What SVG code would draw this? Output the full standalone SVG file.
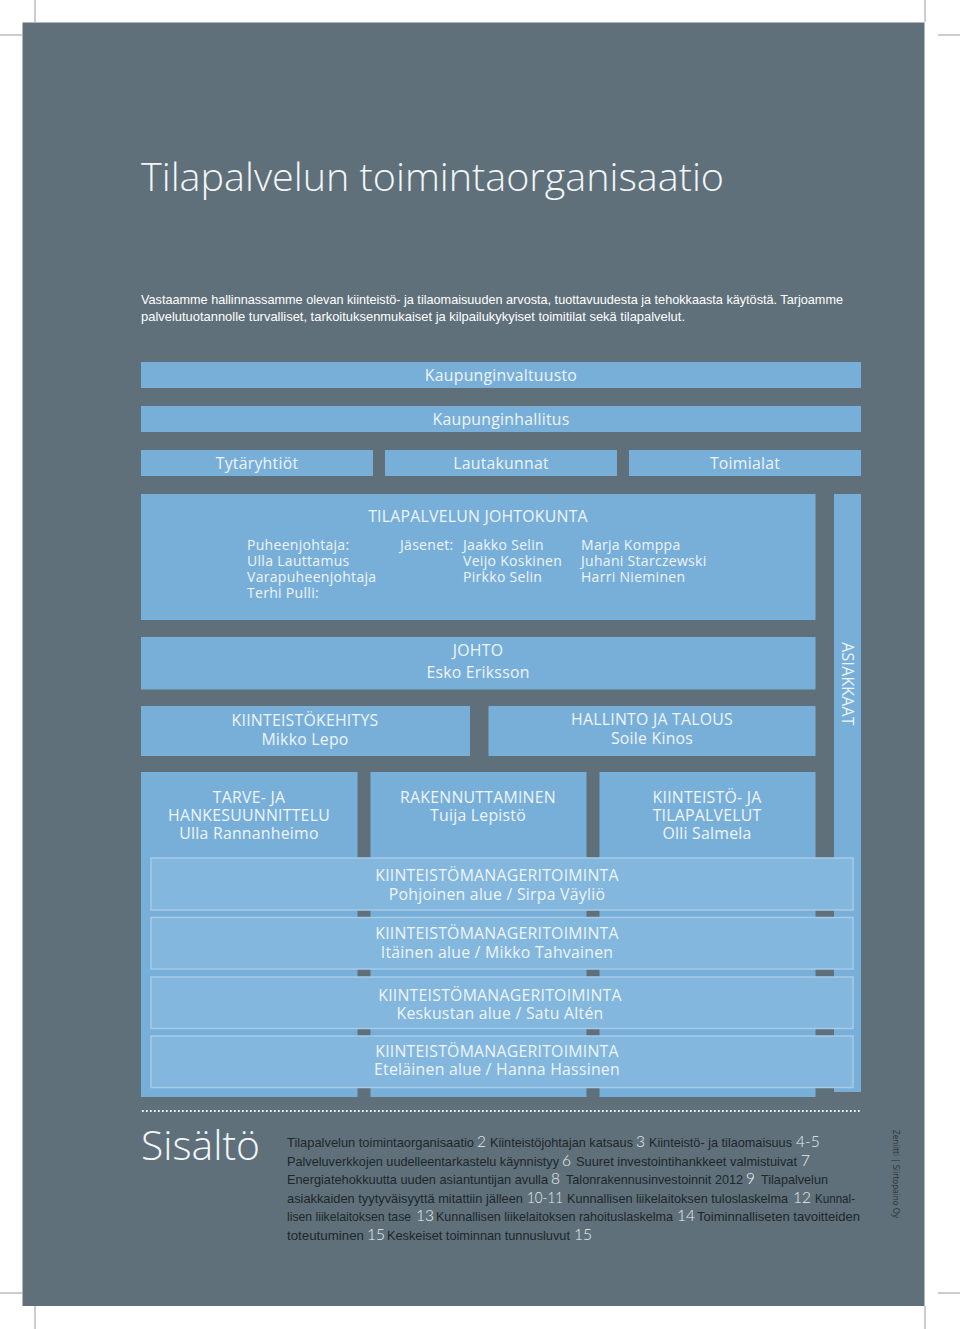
<svg xmlns="http://www.w3.org/2000/svg" width="960" height="1329" viewBox="0 0 960 1329">
<style>
.box{fill:#78afd9}
.km{fill:#83b7de;stroke:#a6cbe8;stroke-width:1.5}
.bt{font-family:"Open Sans","Liberation Sans",sans-serif;font-size:15.8px;letter-spacing:0.25px;fill:#eef5fb;text-anchor:middle}
.bl{font-family:"Open Sans","Liberation Sans",sans-serif;font-size:14px;letter-spacing:0.3px;fill:#eef5fb}
.crop{stroke:#9a9a9a;stroke-width:1;fill:none}
.para{font-family:"Liberation Sans Narrow","Liberation Sans",sans-serif;font-size:13px;fill:#ffffff}
.toc{font-family:"Liberation Sans Narrow","Liberation Sans",sans-serif;font-size:13px;fill:#1e262b}
.num{font-family:Lato,"Liberation Sans",sans-serif;font-size:15.5px;font-weight:300;fill:#e8eef2}
</style>
<rect width="960" height="1329" fill="#ffffff"/>
<g id="cropmarks">
<line class="crop" x1="35" y1="0" x2="35" y2="22"/>
<line class="crop" x1="925" y1="0" x2="925" y2="22"/>
<line class="crop" x1="0" y1="35" x2="22" y2="35"/>
<line class="crop" x1="938" y1="35" x2="960" y2="35"/>
<line class="crop" x1="35" y1="1306" x2="35" y2="1329"/>
<line class="crop" x1="925" y1="1306" x2="925" y2="1329"/>
<line class="crop" x1="0" y1="1293" x2="22" y2="1293"/>
<line class="crop" x1="938" y1="1293" x2="960" y2="1293"/>
</g>
<rect id="panel" x="22.5" y="22.5" width="902" height="1283.5" fill="#5f707a"/>
<text x="141" y="191" font-family="'Open Sans','Liberation Sans',sans-serif" font-size="38" font-weight="300" fill="#f2f6f8" textLength="583" lengthAdjust="spacingAndGlyphs">Tilapalvelun toimintaorganisaatio</text>
<text class="para" x="141" y="304" textLength="702" lengthAdjust="spacingAndGlyphs">Vastaamme hallinnassamme olevan kiinteistö- ja tilaomaisuuden arvosta, tuottavuudesta ja tehokkaasta käytöstä. Tarjoamme</text>
<text class="para" x="141" y="321" textLength="544" lengthAdjust="spacingAndGlyphs">palvelutuotannolle turvalliset, tarkoituksenmukaiset ja kilpailukykyiset toimitilat sekä tilapalvelut.</text>

<g id="connectors"></g>

<g id="valtuusto"><rect class="box" x="141" y="362" width="720" height="26"/><text class="bt" x="501" y="380.5">Kaupunginvaltuusto</text></g>
<g id="hallitus"><rect class="box" x="141" y="406" width="720" height="26"/><text class="bt" x="501" y="424.5">Kaupunginhallitus</text></g>
<g id="tytaryhtiot"><rect class="box" x="141" y="450" width="232" height="26"/><text class="bt" x="257" y="469">Tytäryhtiöt</text></g>
<g id="lautakunnat"><rect class="box" x="385" y="450" width="232" height="26"/><text class="bt" x="501" y="469">Lautakunnat</text></g>
<g id="toimialat"><rect class="box" x="629" y="450" width="232" height="26"/><text class="bt" x="745" y="469">Toimialat</text></g>

<g id="johtokunta"><rect class="box" x="141" y="494" width="674.5" height="126"/>
<text class="bt" x="478" y="522">TILAPALVELUN JOHTOKUNTA</text>
<text class="bl" x="247" y="550">Puheenjohtaja:<tspan x="247" dy="16">Ulla Lauttamus</tspan><tspan x="247" dy="16">Varapuheenjohtaja</tspan><tspan x="247" dy="16">Terhi Pulli:</tspan></text>
<text class="bl" x="400" y="550">Jäsenet:</text>
<text class="bl" x="463" y="550">Jaakko Selin<tspan x="463" dy="16">Veijo Koskinen</tspan><tspan x="463" dy="16">Pirkko Selin</tspan></text>
<text class="bl" x="581" y="550">Marja Komppa<tspan x="581" dy="16">Juhani Starczewski</tspan><tspan x="581" dy="16">Harri Nieminen</tspan></text>
</g>

<g id="asiakkaat"><rect class="box" x="834" y="494" width="27" height="598"/>
<text class="bt" transform="translate(842,684) rotate(90)" x="0" y="0">ASIAKKAAT</text></g>

<g id="johto"><rect class="box" x="141" y="637" width="674.5" height="52.5"/>
<text class="bt" x="478" y="656">JOHTO<tspan x="478" dy="22">Esko Eriksson</tspan></text></g>
<g id="kehitys"><rect class="box" x="141" y="706" width="329" height="50"/>
<text class="bt" x="305" y="726">KIINTEISTÖKEHITYS<tspan x="305" dy="19">Mikko Lepo</tspan></text></g>
<g id="hallinto"><rect class="box" x="488.5" y="706" width="327" height="50"/>
<text class="bt" x="652" y="725">HALLINTO JA TALOUS<tspan x="652" dy="19">Soile Kinos</tspan></text></g>

<g id="tarve"><rect class="box" x="141" y="772" width="216.5" height="325"/>
<text class="bt" x="249" y="803">TARVE- JA<tspan x="249" dy="18">HANKESUUNNITTELU</tspan><tspan x="249" dy="18">Ulla Rannanheimo</tspan></text></g>
<g id="rakennuttaminen"><rect class="box" x="370.5" y="772" width="216" height="325"/>
<text class="bt" x="478" y="803">RAKENNUTTAMINEN<tspan x="478" dy="18">Tuija Lepistö</tspan></text></g>
<g id="tilapalvelut"><rect class="box" x="599.5" y="772" width="216" height="325"/>
<text class="bt" x="707" y="803">KIINTEISTÖ- JA<tspan x="707" dy="18">TILAPALVELUT</tspan><tspan x="707" dy="18">Olli Salmela</tspan></text></g>

<g id="km-pohjoinen"><rect class="km" x="151" y="858" width="702" height="52"/>
<text class="bt" x="497" y="881">KIINTEISTÖMANAGERITOIMINTA<tspan x="497" dy="19">Pohjoinen alue / Sirpa Väyliö</tspan></text></g>
<g id="km-itainen"><rect class="km" x="151" y="917.5" width="702" height="51.5"/>
<text class="bt" x="497" y="939">KIINTEISTÖMANAGERITOIMINTA<tspan x="497" dy="19">Itäinen alue / Mikko Tahvainen</tspan></text></g>
<g id="km-keskusta"><rect class="km" x="151" y="977" width="702" height="51.5"/>
<text class="bt" x="500" y="1001">KIINTEISTÖMANAGERITOIMINTA<tspan x="500" dy="18">Keskustan alue / Satu Altén</tspan></text></g>
<g id="km-etelainen"><rect class="km" x="151" y="1036" width="702" height="51.5"/>
<text class="bt" x="497" y="1057">KIINTEISTÖMANAGERITOIMINTA<tspan x="497" dy="18">Eteläinen alue / Hanna Hassinen</tspan></text></g>

<line x1="142" y1="1111" x2="862" y2="1111" stroke="#ffffff" stroke-width="2.2" stroke-dasharray="1.6 2.4" stroke-linecap="butt"/>
<text x="141" y="1160" font-family="'Open Sans','Liberation Sans',sans-serif" font-size="40" font-weight="300" fill="#f2f6f8" textLength="119" lengthAdjust="spacingAndGlyphs">Sisältö</text>

<g id="toc">
<text class="toc" x="287" y="1147" textLength="187" lengthAdjust="spacingAndGlyphs">Tilapalvelun toimintaorganisaatio</text>
<text class="num" x="477" y="1147">2</text>
<text class="toc" x="490" y="1147" textLength="143" lengthAdjust="spacingAndGlyphs">Kiinteistöjohtajan katsaus</text>
<text class="num" x="636" y="1147">3</text>
<text class="toc" x="649" y="1147" textLength="143" lengthAdjust="spacingAndGlyphs">Kiinteistö- ja tilaomaisuus</text>
<text class="num" x="796" y="1147">4-5</text>

<text class="toc" x="287" y="1165.5" textLength="272" lengthAdjust="spacingAndGlyphs">Palveluverkkojen uudelleentarkastelu käynnistyy</text>
<text class="num" x="562" y="1165.5">6</text>
<text class="toc" x="576" y="1165.5" textLength="221" lengthAdjust="spacingAndGlyphs">Suuret investointihankkeet valmistuivat</text>
<text class="num" x="801" y="1165.5">7</text>

<text class="toc" x="287" y="1184" textLength="261" lengthAdjust="spacingAndGlyphs">Energiatehokkuutta uuden asiantuntijan avulla</text>
<text class="num" x="551" y="1184">8</text>
<text class="toc" x="566" y="1184" textLength="177" lengthAdjust="spacingAndGlyphs">Talonrakennusinvestoinnit 2012</text>
<text class="num" x="746" y="1184">9</text>
<text class="toc" x="761" y="1184" textLength="67" lengthAdjust="spacingAndGlyphs">Tilapalvelun</text>

<text class="toc" x="287" y="1202.5" textLength="236" lengthAdjust="spacingAndGlyphs">asiakkaiden tyytyväisyyttä mitattiin jälleen</text>
<text class="num" x="527" y="1202.5" textLength="36" lengthAdjust="spacingAndGlyphs">10-11</text>
<text class="toc" x="567" y="1202.5" textLength="221" lengthAdjust="spacingAndGlyphs">Kunnallisen liikelaitoksen tuloslaskelma</text>
<text class="num" x="793" y="1202.5">12</text>
<text class="toc" x="815" y="1202.5" textLength="40" lengthAdjust="spacingAndGlyphs">Kunnal-</text>

<text class="toc" x="287" y="1221" textLength="124" lengthAdjust="spacingAndGlyphs">lisen liikelaitoksen tase</text>
<text class="num" x="416" y="1221">13</text>
<text class="toc" x="436" y="1221" textLength="237" lengthAdjust="spacingAndGlyphs">Kunnallisen liikelaitoksen rahoituslaskelma</text>
<text class="num" x="677" y="1221">14</text>
<text class="toc" x="697" y="1221" textLength="163" lengthAdjust="spacingAndGlyphs">Toiminnalliseten tavoitteiden</text>

<text class="toc" x="287" y="1239.5" textLength="77" lengthAdjust="spacingAndGlyphs">toteutuminen</text>
<text class="num" x="367" y="1239.5">15</text>
<text class="toc" x="387" y="1239.5" textLength="183" lengthAdjust="spacingAndGlyphs">Keskeiset toiminnan tunnusluvut</text>
<text class="num" x="574" y="1239.5">15</text>
</g>
<text transform="translate(893,1130) rotate(90)" font-family="'Open Sans','Liberation Sans',sans-serif" font-size="8.5" fill="#2a3338" textLength="88" lengthAdjust="spacingAndGlyphs">Zeniitti | Siirtopaino Oy</text>
</svg>
